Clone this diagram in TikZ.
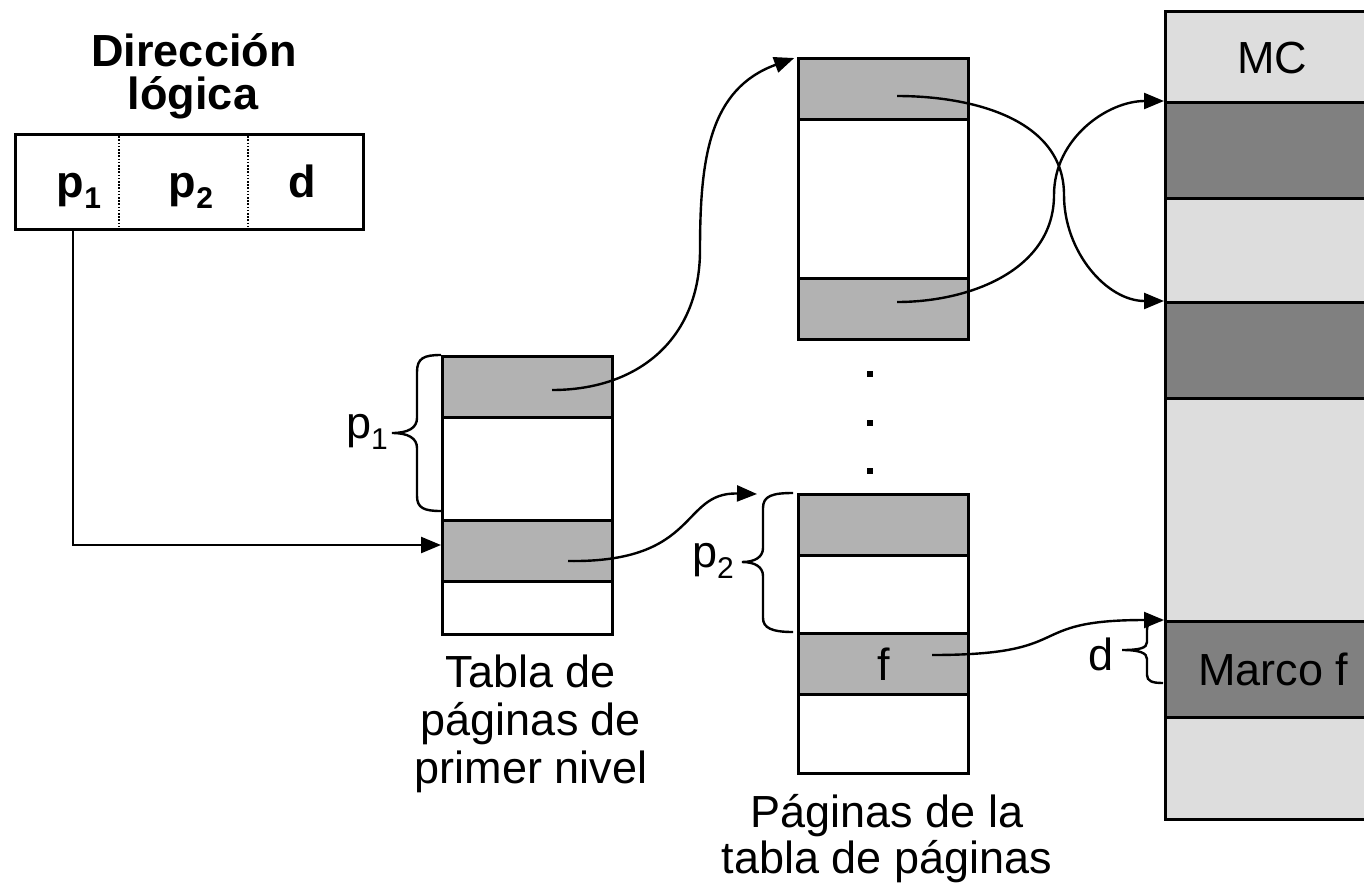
\documentclass[tikz,border=0pt]{standalone}
\usepackage{fontspec}
\setmainfont{Liberation Sans}
\usetikzlibrary{arrows.meta}
\definecolor{cellgray}{RGB}{178,178,178}
\definecolor{mclight}{RGB}{221,221,221}
\definecolor{mcdark}{RGB}{128,128,128}
\newcommand\subidx[1]{\raisebox{-11pt}{\fontsize{30}{30}\selectfont #1}}
\begin{document}
\begin{tikzpicture}[x=1pt,y=-1pt,
  cell/.style={draw=black, line width=2.5pt, inner sep=0pt, anchor=north west, minimum width=170pt},
  graycell/.style={cell, fill=cellgray},
  whitecell/.style={cell, fill=white},
  mcrow/.style={draw=black, line width=2.5pt, inner sep=0pt, anchor=north west, minimum width=216pt, minimum height=96pt, fill=mcdark},
  conn/.style={line width=2.4pt, -{Triangle[length=20pt,width=16pt]}},
  bracestyle/.style={line width=2.4pt},
  lbl/.style={font=\fontsize{45}{48}\selectfont, inner sep=0pt},
  boldlbl/.style={font=\fontsize{45}{44}\selectfont\bfseries, inner sep=0pt},
  dotmark/.style={fill=black}
]
\useasboundingbox (0,0) rectangle (1364,889);
\clip (0,0) rectangle (1364,889);
\fill[white] (0,0) rectangle (1364,889);

% ---- logical address
\node[boldlbl, anchor=base] (tit1) at (194,66) {Dirección};
\node[boldlbl, anchor=base] (tit2) at (193,109) {lógica};
\node[draw=black, line width=2.5pt, inner sep=0pt, anchor=north west,
      minimum width=348pt, minimum height=95pt] (addr) at (14,133) {};
\coordinate (dv1t) at (119,133); \coordinate (dv1b) at (119,228);
\coordinate (dv2t) at (248,133); \coordinate (dv2b) at (248,228);
\draw[line width=1.8pt, dash pattern=on 1.6pt off 1.6pt] (dv1t) -- (dv1b);
\draw[line width=1.8pt, dash pattern=on 1.6pt off 1.6pt] (dv2t) -- (dv2b);
\node[boldlbl, anchor=base] (ap1) at (79,197) {p\subidx{1}};
\node[boldlbl, anchor=base] (ap2) at (191,197) {p\subidx{2}};
\node[boldlbl, anchor=base] (ad) at (302,197) {d};

% ---- first level table
\node[graycell, minimum height=61pt] (t1a) at (441,355) {};
\node[whitecell, minimum height=103pt] (t1b) at (441,416) {};
\node[graycell, minimum height=61pt] (t1c) at (441,519) {};
\node[whitecell, minimum height=53pt] (t1d) at (441,580) {};
\node[lbl, anchor=base] (l1a) at (531,687) {Tabla de};
\node[lbl, anchor=base] (l1b) at (531,735) {páginas de};
\node[lbl, anchor=base] (l1c) at (531,783) {primer nivel};

% ---- second level tables
\node[graycell, minimum height=61pt] (t2a) at (797,57) {};
\node[whitecell, minimum height=159pt] (t2b) at (797,118) {};
\node[graycell, minimum height=61pt] (t2c) at (797,277) {};

\fill[dotmark] (867,371) rectangle (873,377);
\fill[dotmark] (867,420) rectangle (873,426);
\fill[dotmark] (867,468) rectangle (873,474);

\node[graycell, minimum height=61pt] (t3a) at (797,493) {};
\node[whitecell, minimum height=78pt] (t3b) at (797,554) {};
\node[graycell, minimum height=61pt, font=\fontsize{45}{48}\selectfont] (t3c) at (797,632) {f};
\node[whitecell, minimum height=79pt] (t3d) at (797,693) {};
\node[lbl, anchor=base] (l2a) at (887,827) {Páginas de la};
\node[lbl, anchor=base] (l2b) at (887,873) {tabla de páginas};

% ---- main memory
\node[draw=black, line width=2.5pt, fill=mclight, inner sep=0pt, anchor=north west,
      minimum width=216pt, minimum height=808pt] (mc) at (1164,10) {};
\node[lbl, anchor=base] (mclbl) at (1272,73) {MC};
\node[mcrow] (mc1) at (1164,101) {};
\node[mcrow] (mc2) at (1164,301) {};
\node[mcrow, font=\fontsize{45}{48}\selectfont] (mcf) at (1164,620) {Marco f};

% ---- braces
\draw[bracestyle] (t1a.north west) .. controls (424,355) and (417,358) .. (417,372) -- (417,418)
  .. controls (417,428) and (408,433) .. (392,433) .. controls (408,433) and (417,438) .. (417,448)
  -- (417,496) .. controls (417,508) and (424,511) .. (441,511);
\node[lbl, anchor=base east] (bp1) at (388,438) {p\subidx{1}};

\draw[bracestyle] (793,493) .. controls (772,493) and (763,496) .. (763,508) -- (763,548)
  .. controls (763,557) and (755,562) .. (742,562) .. controls (755,562) and (763,567) .. (763,576)
  -- (763,618) .. controls (763,628) and (772,632) .. (793,632);
\node[lbl, anchor=base east] (bp2) at (734,567) {p\subidx{2}};

\draw[bracestyle] (1162,620) .. controls (1152,620) and (1147,622) .. (1147,630) -- (1147,642)
  .. controls (1147,648) and (1140,650) .. (1122,650) .. controls (1140,650) and (1147,653) .. (1147,659)
  -- (1147,675) .. controls (1147,681) and (1152,683) .. (1163,683);
\node[lbl, anchor=base east] (bd) at (1114,670) {d};

% ---- connectors
\coordinate (s0) at (73,228);
\coordinate (k0) at (73,545);
\draw[conn] (s0) -- (k0) -- (t1c.west |- k0);

\coordinate (s1) at (552,390);
\coordinate (v1) at (700,250);
\draw[conn, shorten >=3pt] (s1) to[out=0,in=-90,looseness=1.1] (v1) to[out=90,in=200,looseness=1.1] (t2a.north west);

\coordinate (s2) at (568,561);
\coordinate (e2) at (757,494);
\draw[conn] (s2) .. controls (700,563) and (680,492) .. (e2);

\coordinate (s3) at (897,96);
\coordinate (v3) at (1064,195);
\draw[conn] (s3) to[out=0,in=90] (v3) to[out=-90,in=180] (mc2.north west);

\coordinate (s4) at (897,302);
\coordinate (v4) at (1054,195);
\draw[conn] (s4) to[out=0,in=-90] (v4) to[out=90,in=180] (mc1.north west);

\coordinate (s5) at (932,655);
\draw[conn] (s5) .. controls (1080,655) and (1020,620) .. (mcf.north west);
\end{tikzpicture}
\end{document}
